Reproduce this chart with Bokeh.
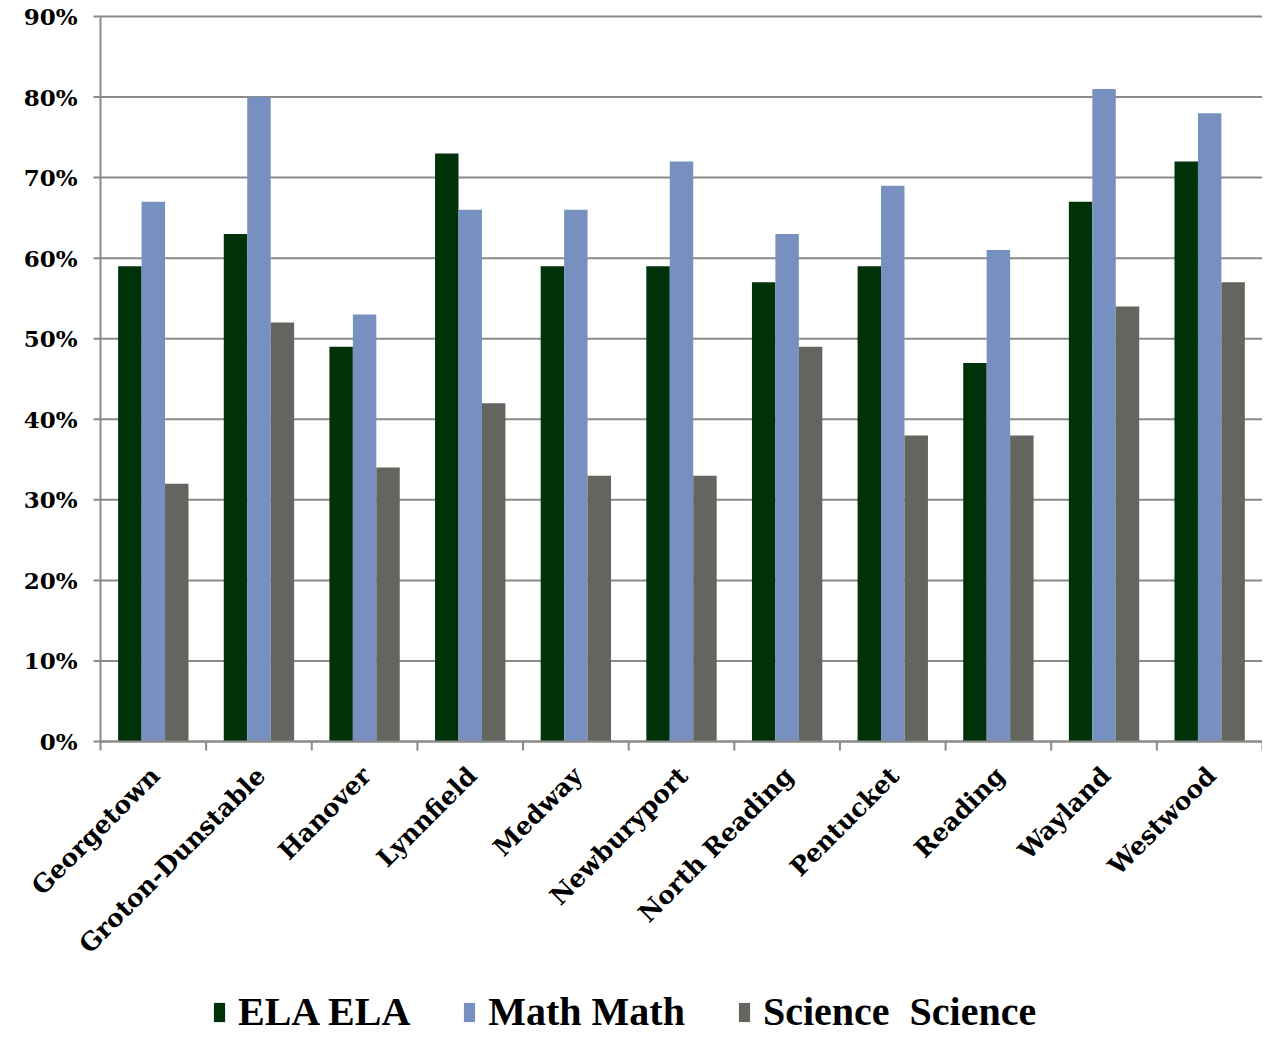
import math
from bokeh.plotting import figure
from bokeh.models import ColumnDataSource, Legend, LegendItem, Range1d
from bokeh.core.properties import value
from bokeh.transform import dodge
from bokeh.embed import file_html
from bokeh.resources import INLINE

districts = ["Georgetown", "Groton-Dunstable", "Hanover", "Lynnfield", "Medway",
             "Newburyport", "North Reading", "Pentucket", "Reading", "Wayland", "Westwood"]
ela = [59, 63, 49, 73, 59, 59, 57, 59, 47, 67, 72]
math_ = [67, 80, 53, 66, 66, 72, 63, 69, 61, 81, 78]
science = [32, 52, 34, 42, 33, 33, 49, 38, 38, 54, 57]
y_ticks = [0, 10, 20, 30, 40, 50, 60, 70, 80, 90]
y_labels = ["0%", "10%", "20%", "30%", "40%", "50%", "60%", "70%", "80%", "90%"]

# canvas geometry (pixels)
W, H = 1262, 1039
left_px, zero_px, top_px = 100, 741, 16
n = len(districts)
cat_px = (W - left_px) / n
unit_px = (zero_px - top_px) / 0.9
x_start = -left_px / cat_px
y_end = 0.9 + top_px / unit_px
y_start = -(H - zero_px) / unit_px
dx = 1 / cat_px
dy = 1 / unit_px

pos = [i + 0.5 for i in range(n)]
src = ColumnDataSource(dict(
    x=pos, name=districts,
    ela=[v / 100 for v in ela],
    math=[v / 100 for v in math_],
    sci=[v / 100 for v in science],
))

p = figure(width=W, height=H, output_backend="svg", toolbar_location=None,
           x_range=Range1d(x_start, n), y_range=Range1d(y_start, y_end),
           x_axis_location=None, y_axis_location=None,
           min_border_left=0, min_border_right=0, min_border_top=0, min_border_bottom=0)
p.outline_line_color = None
p.xgrid.grid_line_color = None
p.ygrid.grid_line_color = None

grey = "#8a8a8a"
yt = [t / 100 for t in y_ticks]
# horizontal gridlines
p.segment(x0=[0] * len(yt), x1=[n] * len(yt), y0=yt, y1=yt, line_color=grey, line_width=2)

w = 0.222
r1 = p.vbar(x=dodge("x", -0.222), top="ela", width=w, source=src, fill_color="#00320a", line_color=None)
r2 = p.vbar(x="x", top="math", width=w, source=src, fill_color="#7890c0", line_color=None)
r3 = p.vbar(x=dodge("x", 0.222), top="sci", width=w, source=src, fill_color="#62665e", line_color=None)

# y axis line, ticks and labels
p.segment(x0=[0], x1=[0], y0=[yt[0]], y1=[yt[-1]], line_color=grey, line_width=2)
p.segment(x0=[0] * len(yt), x1=[-7 * dx] * len(yt), y0=yt, y1=yt, line_color=grey, line_width=2)
p.text(x=[0] * len(yt), y=yt, text=y_labels, x_offset=-23, text_align="right", text_baseline="middle",
       text_font=value("DejaVu Serif"), text_font_style="bold", text_font_size="23px", text_color="black")

# x axis line, boundary ticks and rotated labels
bounds = list(range(n + 1))
p.segment(x0=[0], x1=[n], y0=[0], y1=[0], line_color=grey, line_width=2)
p.segment(x0=bounds, x1=bounds, y0=[0] * len(bounds), y1=[-9 * dy] * len(bounds), line_color=grey, line_width=2)
p.text(x="x", y=0, text="name", source=src, angle=math.pi / 4, x_offset=2, y_offset=30,
       text_align="right", text_baseline="middle",
       text_font=value("DejaVu Serif"), text_font_style="bold", text_font_size="25px", text_color="black")

legend = Legend(items=[
    LegendItem(label="ELA ELA", renderers=[r1]),
    LegendItem(label="Math Math", renderers=[r2]),
    LegendItem(label="Science  Science", renderers=[r3]),
], orientation="horizontal", location=(212, 4))
legend.border_line_color = None
legend.background_fill_alpha = 0
legend.label_text_font = "Liberation Serif"
legend.label_text_font_style = "bold"
legend.label_text_font_size = "40px"
legend.label_text_color = "black"
legend.glyph_width = 14
legend.glyph_height = 24
legend.spacing = 52
legend.label_standoff = 12
legend.padding = 2
legend.margin = 0
p.add_layout(legend)

open("out.html", "w").write(file_html(p, INLINE))
